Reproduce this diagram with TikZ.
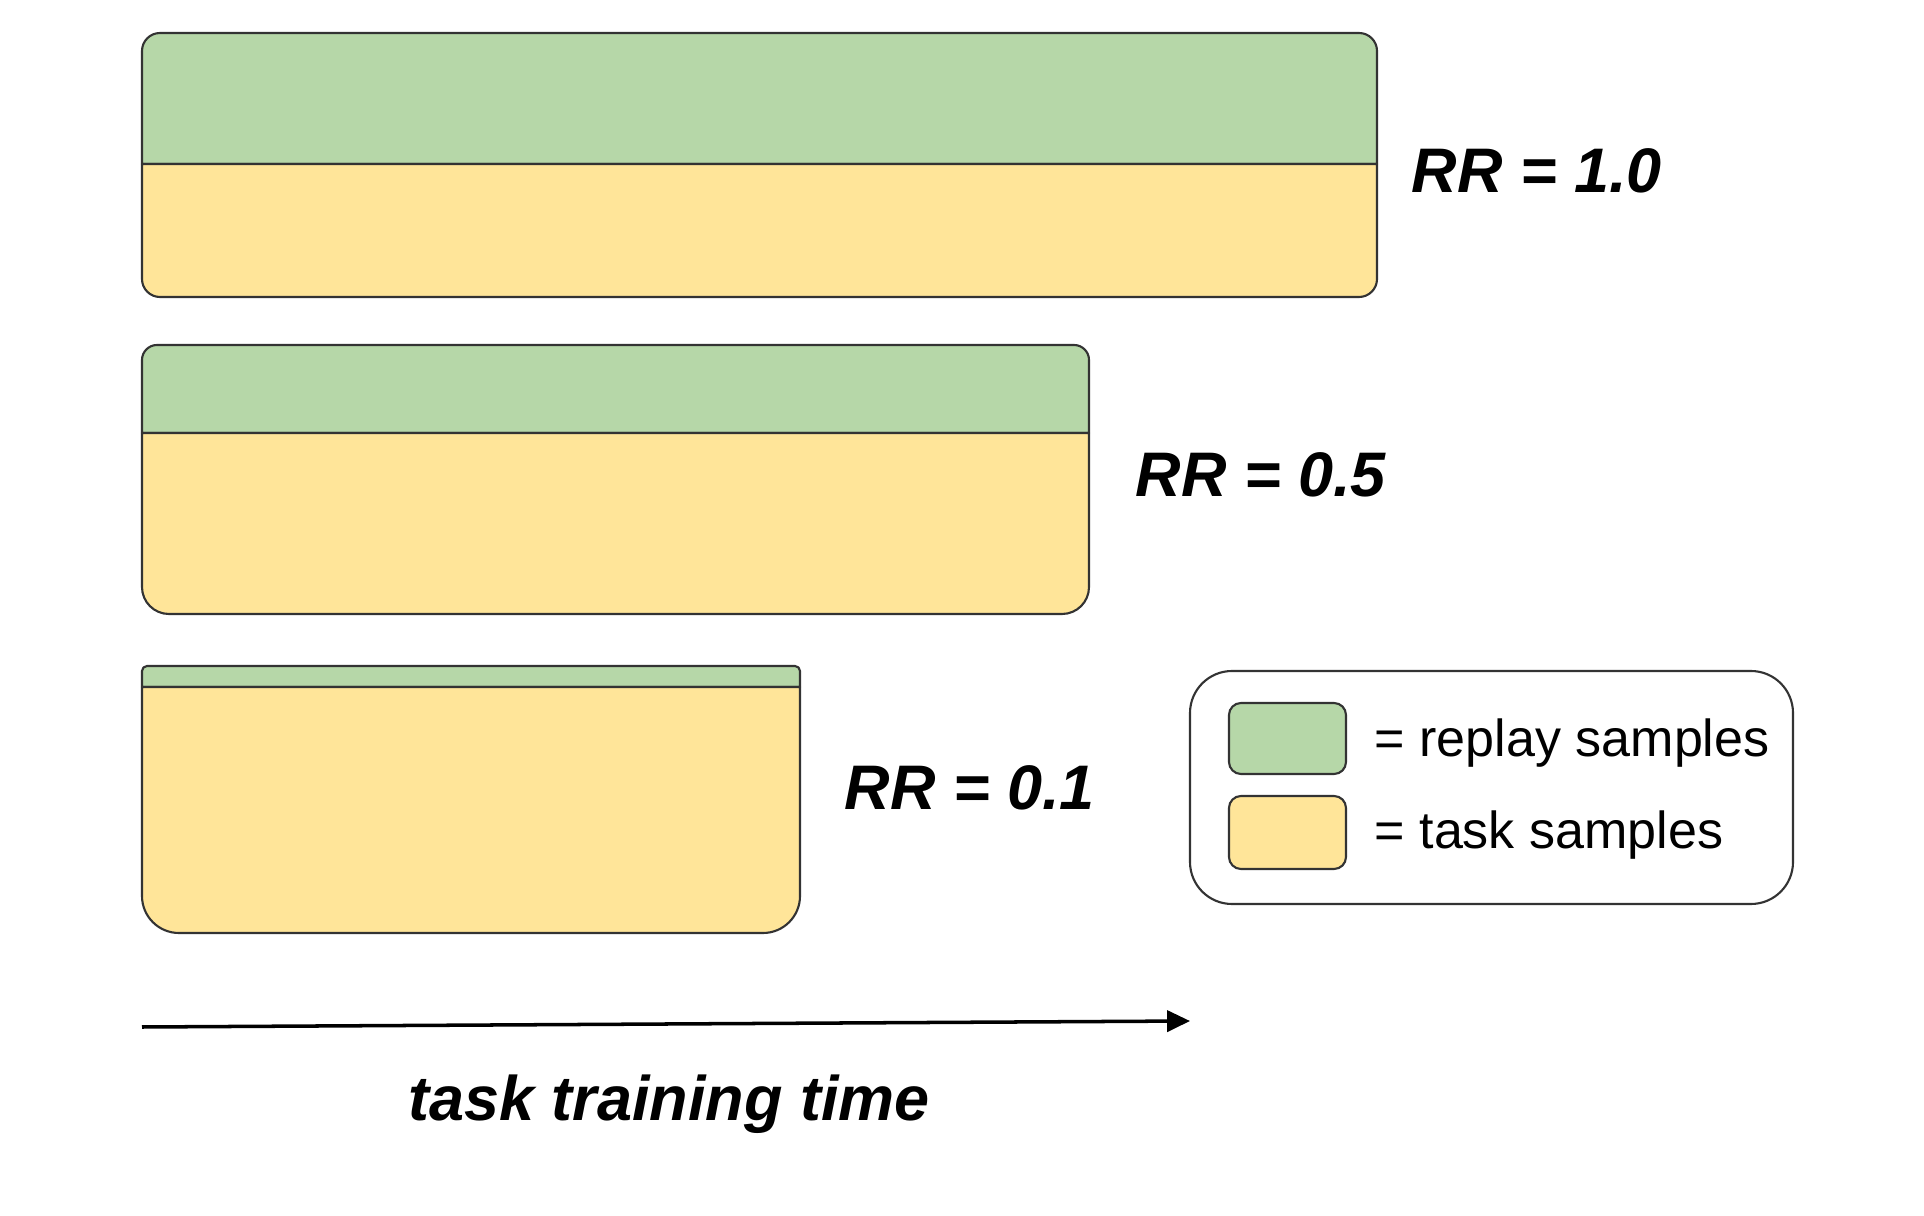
\documentclass[tikz,border=0pt]{standalone}
\usepackage{fontspec}
\setmainfont{Liberation Sans}
\usetikzlibrary{arrows.meta}
\definecolor{replaygreen}{HTML}{B6D7A8}
\definecolor{taskyellow}{HTML}{FFE599}
\definecolor{edgegray}{HTML}{333333}
% #1 L, #2 T, #3 R, #4 divider, #5 B, #6 top radius, #7 bottom radius
\newcommand{\rrsamplebox}[7]{%
  \filldraw[fill=replaygreen,draw=edgegray,line width=0.6pt,line join=round]
    (#1,#4) -- (#1,#2+#6) arc (180:270:#6) -- (#3-#6,#2) arc (270:360:#6) -- (#3,#4) -- cycle;
  \filldraw[fill=taskyellow,draw=edgegray,line width=0.6pt,line join=round]
    (#1,#4) -- (#3,#4) -- (#3,#5-#7) arc (0:90:#7) -- (#1+#7,#5) arc (90:180:#7) -- cycle;
}
\tikzset{
  rrlabel/.style={anchor=base west,inner sep=0pt,font=\fontsize{17.9}{20}\selectfont\bfseries\itshape},
  legtext/.style={anchor=base west,inner sep=0pt,font=\fontsize{14.8}{17}\selectfont},
  swatch/.style={draw=edgegray,line width=0.6pt,rounded corners=0.12cm},
}
\begin{document}
\begin{tikzpicture}[x=0.01cm,y=-0.01cm]
\useasboundingbox[fill=white] (0,0) rectangle (1924,1216);
% bars
\rrsamplebox{142}{33}{1377}{164}{297}{18}{18}
\rrsamplebox{142}{345}{1089}{433}{614}{15}{27}
\rrsamplebox{142}{666}{800}{687}{933}{5}{37}
% labels
\node[rrlabel] (rr10) at (1411,193) {RR = 1.0};
\node[rrlabel] (rr05) at (1135,497) {RR = 0.5};
\node[rrlabel] (rr01) at (844,810) {RR = 0.1};
% legend
\draw[draw=edgegray,line width=0.6pt,rounded corners=0.42cm] (1190,671) rectangle (1793,904);
\draw[swatch,fill=replaygreen] (1229,703) rectangle (1346,774);
\draw[swatch,fill=taskyellow] (1229,796) rectangle (1346,869);
\node[legtext] (legreplay) at (1374,757) {= replay samples};
\node[legtext] (legtask) at (1374,849) {= task samples};
% time axis
\coordinate (tstart) at (142,1027);
\coordinate (tend) at (1190,1021);
\draw[line width=1pt,-{Triangle[length=6.5pt,width=6pt]}] (tstart) -- (tend);
\node[rrlabel,anchor=base] (ttime) at (669,1120) {task training time};
\end{tikzpicture}
\end{document}
